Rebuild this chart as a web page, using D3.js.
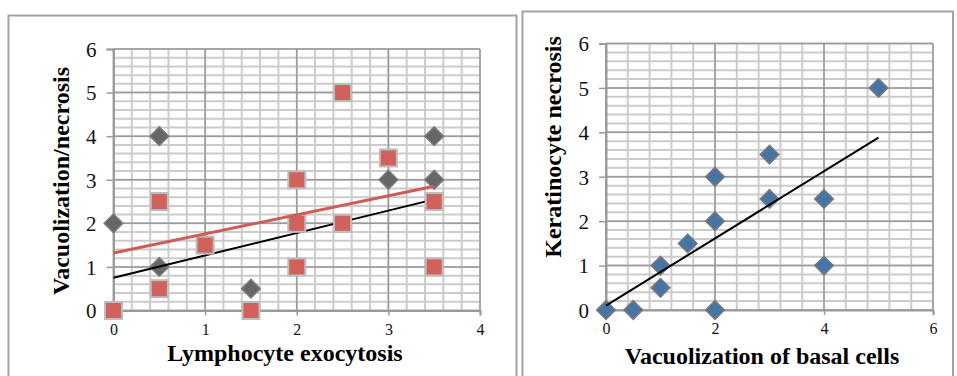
<!DOCTYPE html>
<html><head><meta charset="utf-8">
<script src="https://cdn.jsdelivr.net/npm/d3@7"></script>
<style>
html,body{margin:0;padding:0;background:#fff;}
svg{display:block;}
</style></head>
<body>
<svg id="chart" width="957" height="376"></svg>
<script>
// ---------- DATA ----------
// Left chart: Lymphocyte exocytosis vs Vacuolization/necrosis
const leftXTicks = [0, 1, 2, 3, 4];
const leftYTicks = [0, 1, 2, 3, 4, 5, 6];
const leftDiamondX = [0, 0.5, 0.5, 1.5, 3, 3.5, 3.5];
const leftDiamondY = [2, 4, 1, 0.5, 3, 4, 3];
const leftSquareX = [0, 0.5, 0.5, 1, 1.5, 2, 2, 2, 2.5, 2.5, 3, 3.5, 3.5];
const leftSquareY = [0, 2.5, 0.5, 1.5, 0, 3, 2, 1, 5, 2, 3.5, 2.5, 1];
const leftDiamondTrendX = [0, 3.5];
const leftDiamondTrendY = [0.75, 2.55];
const leftSquareTrendX = [0, 3.5];
const leftSquareTrendY = [1.32, 2.85];
const leftXTitle = "Lymphocyte exocytosis";
const leftYTitle = "Vacuolization/necrosis";

// Right chart: Vacuolization of basal cells vs Keratinocyte necrosis
const rightXTicks = [0, 2, 4, 6];
const rightYTicks = [0, 1, 2, 3, 4, 5, 6];
const rightX = [0, 0.5, 1, 1, 1.5, 2, 2, 2, 3, 3, 4, 4, 5];
const rightY = [0, 0, 1, 0.5, 1.5, 3, 2, 0, 3.5, 2.5, 2.5, 1, 5];
const rightTrendX = [0, 5];
const rightTrendY = [0.1, 3.88];
const rightXTitle = "Vacuolization of basal cells";
const rightYTitle = "Keratinocyte necrosis";

// ---------- DRAW ----------
const svg = d3.select("#chart");
const serif = "'Liberation Serif','Times New Roman',serif";

function zip(xs, ys){ return xs.map((x,i)=>({x:x, y:ys[i]})); }

function panel(x0, y0, x1, y1){
  svg.append("rect").attr("x",x0).attr("y",y0).attr("width",x1-x0).attr("height",y1-y0)
    .attr("fill","#fff").attr("stroke","#a3a3a3").attr("stroke-width",2);
}

function chart(cfg){
  const g = svg.append("g");
  const x = d3.scaleLinear().domain(cfg.xDomain).range(cfg.xRange);
  const y = d3.scaleLinear().domain(cfg.yDomain).range(cfg.yRange);
  const minorX = d3.range(cfg.xDomain[0], cfg.xDomain[1]+1e-9, cfg.xMinor);
  const minorY = d3.range(cfg.yDomain[0], cfg.yDomain[1]+1e-9, cfg.yMinor);
  // minor grid
  g.selectAll(".mx").data(minorX).join("line")
    .attr("x1",d=>x(d)).attr("x2",d=>x(d)).attr("y1",y.range()[0]).attr("y2",y.range()[1])
    .attr("stroke","#cbcbcb").attr("stroke-width",2);
  g.selectAll(".my").data(minorY).join("line")
    .attr("y1",d=>y(d)).attr("y2",d=>y(d)).attr("x1",x.range()[0]).attr("x2",x.range()[1])
    .attr("stroke","#cbcbcb").attr("stroke-width",2);
  // major grid
  g.selectAll(".Mx").data(cfg.xTicks).join("line")
    .attr("x1",d=>x(d)).attr("x2",d=>x(d)).attr("y1",y.range()[0]).attr("y2",y.range()[1])
    .attr("stroke","#9a9a9a").attr("stroke-width",1.5);
  g.selectAll(".My").data(cfg.yTicks).join("line")
    .attr("y1",d=>y(d)).attr("y2",d=>y(d)).attr("x1",x.range()[0]).attr("x2",x.range()[1])
    .attr("stroke","#9a9a9a").attr("stroke-width",1.5);
  // axes
  const ax = g.append("g").attr("transform",`translate(0,${y.range()[0]})`)
    .call(d3.axisBottom(x).tickValues(cfg.xTicks).tickSize(5).tickPadding(8).tickFormat(d3.format("d")));
  const ay = g.append("g").attr("transform",`translate(${x.range()[0]},0)`)
    .call(d3.axisLeft(y).tickValues(cfg.yTicks).tickSize(7).tickPadding(10).tickFormat(d3.format("d")));
  [ax, ay].forEach(a=>{
    a.attr("font-family",serif);
    a.select(".domain").attr("stroke","#9a9a9a").attr("stroke-width",2);
    a.selectAll(".tick line").attr("stroke","#9a9a9a").attr("stroke-width",1.5);
    a.selectAll("text").attr("font-family",serif).attr("fill","#111");
  });
  ax.attr("font-size",16); ax.selectAll("text").attr("font-size",16);
  ay.attr("font-size",21); ay.selectAll("text").attr("font-size",21).attr("dy","0.35em");
  // titles
  g.append("text").attr("x",cfg.xTitlePos[0]).attr("y",cfg.xTitlePos[1])
    .attr("text-anchor","middle").attr("font-family",serif).attr("font-weight","bold")
    .attr("font-size",cfg.titleSize).attr("fill","#000").text(cfg.xTitle);
  g.append("text").attr("transform",`translate(${cfg.yTitlePos[0]},${cfg.yTitlePos[1]}) rotate(-90)`)
    .attr("text-anchor","middle").attr("font-family",serif).attr("font-weight","bold")
    .attr("font-size",cfg.titleSize).attr("fill","#000").text(cfg.yTitle);
  return {g, x, y};
}

function diamonds(c, data, fill, stroke){
  c.g.append("g").selectAll("rect").data(data).join("rect")
    .attr("x",-6.6).attr("y",-6.6).attr("width",13.2).attr("height",13.2)
    .attr("transform",d=>`translate(${c.x(d.x)},${c.y(d.y)}) rotate(45)`)
    .attr("fill",fill).attr("stroke",stroke).attr("stroke-width",1.5);
}
function squares(c, data, fill, stroke){
  c.g.append("g").selectAll("rect").data(data).join("rect")
    .attr("x",d=>c.x(d.x)-8.5).attr("y",d=>c.y(d.y)-8.5).attr("width",17).attr("height",17)
    .attr("fill",fill).attr("stroke",stroke).attr("stroke-width",2);
}
function trend(c, data, color, w){
  c.g.append("path").datum(data)
    .attr("d", d3.line().x(d=>c.x(d.x)).y(d=>c.y(d.y)))
    .attr("fill","none").attr("stroke",color).attr("stroke-width",w);
}

panel(8.5, 15.5, 516.5, 400);
panel(522.5, 11.5, 953, 400);

const L = chart({
  xDomain:[0,4], yDomain:[0,6], xRange:[113.5,480], yRange:[310.5,49],
  xMinor:0.2, yMinor:0.2, xTicks:leftXTicks, yTicks:leftYTicks,
  xTitle:leftXTitle, yTitle:leftYTitle, titleSize:24,
  xTitlePos:[285,361], yTitlePos:[69,181]
});
diamonds(L, zip(leftDiamondX,leftDiamondY), "#666666", "#7a7a7a");
trend(L, zip(leftDiamondTrendX,leftDiamondTrendY), "#000", 2);
squares(L, zip(leftSquareX,leftSquareY), "#d0625b", "#bdbdbd");
trend(L, zip(leftSquareTrendX,leftSquareTrendY), "#cd5d56", 3);

const R = chart({
  xDomain:[0,6], yDomain:[0,6], xRange:[606,933], yRange:[310,43.5],
  xMinor:0.4, yMinor:0.2, xTicks:rightXTicks, yTicks:rightYTicks,
  xTitle:rightXTitle, yTitle:rightYTitle, titleSize:24,
  xTitlePos:[762,364], yTitlePos:[561,147]
});
diamonds(R, zip(rightX,rightY), "#4674a5", "#7a7a7a");
trend(R, zip(rightTrendX,rightTrendY), "#000", 2);
</script>
</body></html>
